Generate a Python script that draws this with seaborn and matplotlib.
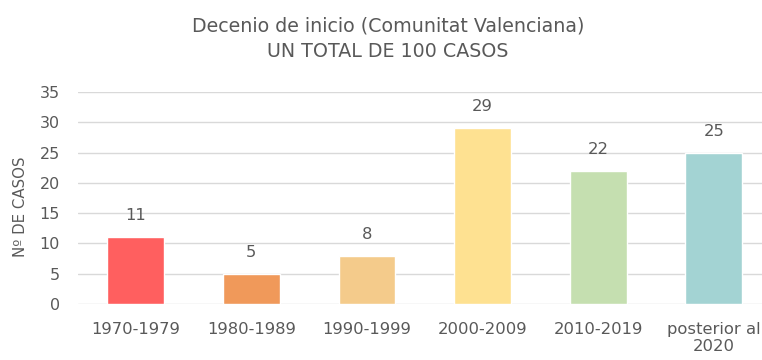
import matplotlib
matplotlib.use("Agg")
import matplotlib.pyplot as plt
import seaborn as sns
import pandas as pd

# Cases by starting decade
decades = ["1970-1979", "1980-1989", "1990-1999", "2000-2009", "2010-2019", "posterior al\n2020"]
cases = [11, 5, 8, 29, 22, 25]
colors = ["#FF5F5F", "#F0995A", "#F4CB8B", "#FEE191", "#C5DFB0", "#A3D3D3"]
yticks = [0, 5, 10, 15, 20, 25, 30, 35]

sns.set_theme(style="white")
plt.rcParams["font.family"] = ["DejaVu Sans"]
text_color = "#595959"

df = pd.DataFrame({"decenio": decades, "casos": cases})

fig = plt.figure(figsize=(7.62, 3.6), dpi=100)
ax = fig.add_axes([78 / 762, 1 - 304 / 360, 1 - 78 / 762, 212 / 360])

sns.barplot(data=df, x="decenio", y="casos", hue="decenio", palette=colors,
            width=0.49, legend=False, ax=ax, saturation=1, zorder=3)

ax.set_ylim(0, 35)
ax.set_xlim(-0.5, 5.417)
ax.set_yticks(yticks)
ax.yaxis.grid(True, color="#D9D9D9", linewidth=1, zorder=0)
ax.set_axisbelow(True)
for s in ax.spines.values():
    s.set_visible(False)

ax.tick_params(axis="y", length=0, labelsize=11.5, colors=text_color, pad=13)
ax.tick_params(axis="x", length=0, labelsize=11.8, colors=text_color, pad=13)
ax.set_xlabel("")
ax.set_ylabel("Nº DE CASOS", color=text_color, fontsize=10.8)
ax.yaxis.set_label_coords(-50 / 684, (304 - 207) / 212)

for container in ax.containers:
    ax.bar_label(container, padding=10, color=text_color, fontsize=11.8)

fig.text(388 / 762, 1 - 31 / 360, "Decenio de inicio (Comunitat Valenciana)", ha="center", va="baseline",
         color=text_color, fontsize=13.7)
fig.text(388 / 762, 1 - 57 / 360, "UN TOTAL DE 100 CASOS", ha="center", va="baseline",
         color=text_color, fontsize=13.7)

fig.savefig("out.png", dpi=100, facecolor="white")
